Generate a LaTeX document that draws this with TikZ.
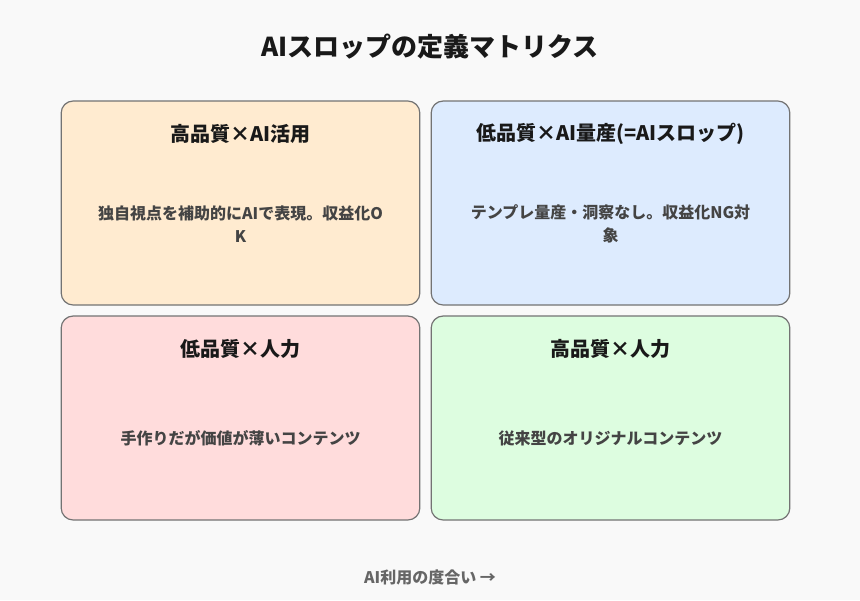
\documentclass[tikz,border=0pt]{standalone}
\usepackage{fontspec}
\setmainfont{Noto Sans CJK JP}
\definecolor{BG_Color}{HTML}{F9F9F9}
\definecolor{ORANGE_Color}{HTML}{FFEBD0}
\definecolor{BLUE_Color}{HTML}{DDEBFE}
\definecolor{PINK_Color}{HTML}{FFDCDC}
\definecolor{GREEN_Color}{HTML}{DDFDE0}
\definecolor{TEXT_Color}{HTML}{444444}
\tikzset{
    quadrant/.style={draw=black!55, line width=0.9pt, rounded corners=9pt, minimum width=269pt, minimum height=153pt, inner sep=0},
    quad title/.style={font=\bfseries\fontsize{15}{18}\selectfont, text=black!90},
    quad text/.style={font=\bfseries\fontsize{12}{17}\selectfont, text=TEXT_Color, align=center},
    }
\begin{document}
\begin{tikzpicture}[x=0.75pt, y=-0.75pt]
\fill[BG_Color] (0,0) rectangle (860,600);
\useasboundingbox (0,0) rectangle (860,600);

\node[font=\bfseries\fontsize{19.5}{22}\selectfont, text=black!90] (title) at (430,47) {AIスロップの定義マトリクス};

\node[quadrant, fill=ORANGE_Color] (q1) at (240.5,203) {};
\node[quadrant, fill=BLUE_Color] (q2) at (610.5,203) {};
\node[quadrant, fill=PINK_Color] (q3) at (240.5,418) {};
\node[quadrant, fill=GREEN_Color] (q4) at (610.5,418) {};

\node[quad title] (t1) at (240.5,134) {高品質×AI活用};
\node[quad title] (t2) at (610.5,134) {低品質×AI量産(=AIスロップ)};
\node[quad title] (t3) at (240.5,349) {低品質×人力};
\node[quad title] (t4) at (610.5,349) {高品質×人力};

\node[quad text] (b1) at (240.5,224) {独自視点を補助的にAIで表現。収益化O\\K};
\node[quad text] (b2) at (610.5,224) {テンプレ量産・洞察なし。収益化NG対\\象};
\node[quad text] (b3) at (240.5,438) {手作りだが価値が薄いコンテンツ};
\node[quad text] (b4) at (610.5,438) {従来型のオリジナルコンテンツ};

\node[font=\bfseries\fontsize{12}{14}\selectfont, text=black!60] (axis) at (430,577) {AI利用の度合い →};
\end{tikzpicture}
\end{document}
